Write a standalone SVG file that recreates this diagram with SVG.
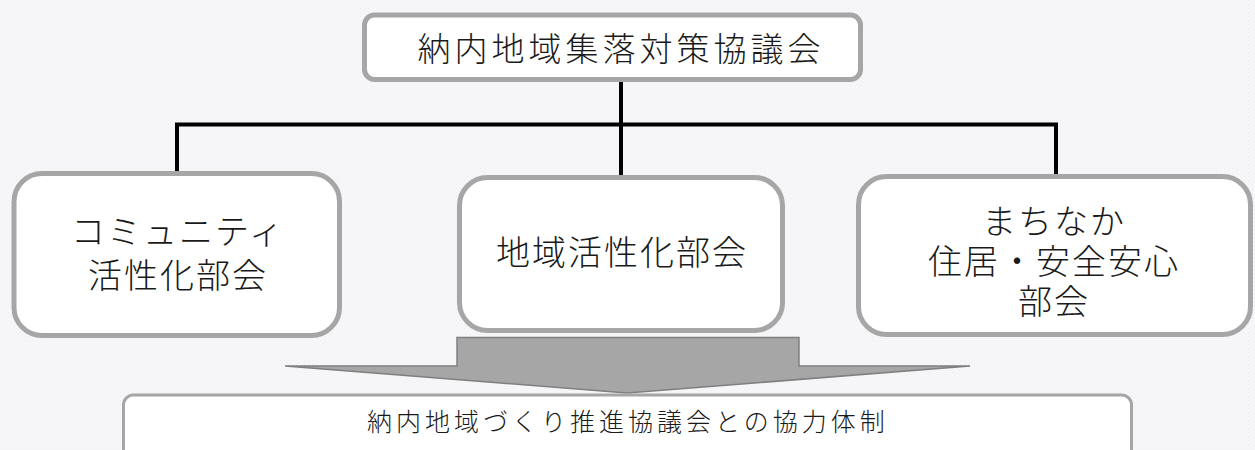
<svg xmlns="http://www.w3.org/2000/svg" width="1255" height="450" viewBox="0 0 1255 450">
  <defs>
    <pattern id="bg" width="4" height="4" patternUnits="userSpaceOnUse">
      <rect width="4" height="4" fill="#f7f6f9"/>
      <rect x="0" y="0" width="1" height="1" fill="#ecebf0"/>
      <rect x="2" y="2" width="1" height="1" fill="#ecebf0"/>
    </pattern>
  </defs>
  <style>
    .node { fill: #ffffff; stroke: #a6a6a6; stroke-width: 5; }
    .conn { fill: none; stroke: #000000; stroke-width: 4; stroke-linecap: butt; }
    .t { font-family: "Noto Sans CJK JP", "Noto Sans CJK SC", sans-serif; font-weight: 300; fill: #1a1a1a; text-anchor: middle; }
    .big { font-size: 34px; letter-spacing: 2px; }
  </style>
  <rect width="1255" height="450" fill="url(#bg)"/>

  <g id="connectors">
    <line class="conn" x1="621" y1="80" x2="621" y2="177"/>
    <line class="conn" x1="175" y1="124.5" x2="1058" y2="124.5"/>
    <line class="conn" x1="177" y1="124.5" x2="177" y2="174"/>
    <line class="conn" x1="1056" y1="124.5" x2="1056" y2="177"/>
  </g>

  <g id="top">
    <rect class="node" x="364.5" y="15" width="496" height="64.5" rx="10"/>
    <text class="t" x="621" y="61" font-size="33" letter-spacing="4">納内地域集落対策協議会</text>
  </g>

  <g id="left">
    <rect class="node" x="14" y="173.5" width="325.5" height="162" rx="28"/>
    <text class="t big"><tspan x="178" y="244">コミュニティ</tspan><tspan x="178" y="288">活性化部会</tspan></text>
  </g>

  <g id="middle">
    <rect class="node" x="459.5" y="177.5" width="323" height="153" rx="28"/>
    <text class="t big" x="622" y="265">地域活性化部会</text>
  </g>

  <g id="right">
    <rect class="node" x="858.5" y="176.5" width="392" height="158" rx="28"/>
    <text class="t big"><tspan x="1054" y="234">まちなか</tspan><tspan x="1054" y="274">住居・安全安心</tspan><tspan x="1054" y="314">部会</tspan></text>
  </g>

  <g id="arrow">
    <path d="M285,366 L457,366 L457,337.5 L799,337.5 L799,366 L970,366 L627,393 Z" fill="#a6a6a6" stroke="#7f7f7f" stroke-width="1.5" stroke-linejoin="miter"/>
  </g>

  <g id="bottom">
    <rect x="123.5" y="395" width="1008" height="80" rx="10" fill="#ffffff" stroke="#a6a6a6" stroke-width="3"/>
    <text class="t" x="628" y="431" font-size="25" letter-spacing="4">納内地域づくり推進協議会との協力体制</text>
  </g>
</svg>
